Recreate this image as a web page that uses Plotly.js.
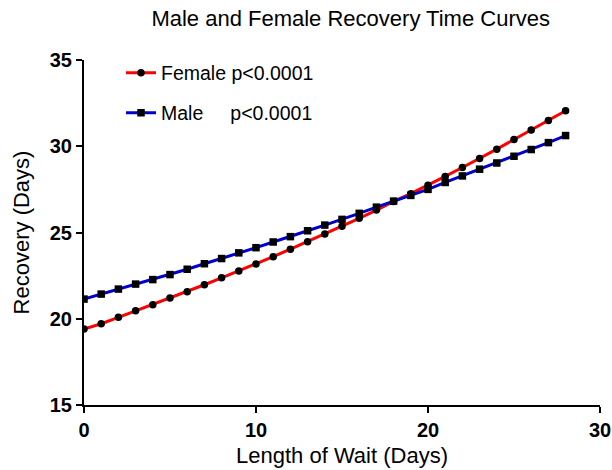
<!DOCTYPE html>
<html>
<head>
<meta charset="utf-8">
<script src="https://cdn.plot.ly/plotly-3.0.1.min.js"></script>
<style>html,body{margin:0;padding:0;background:#fff;}#chart{width:612px;height:470px;}</style>
</head>
<body>
<div id="chart"></div>
<script>
const waitDays = [0,1,2,3,4,5,6,7,8,9,10,11,12,13,14,15,16,17,18,19,20,21,22,23,24,25,26,27,28];
const femaleRecovery = [19.40,19.71,20.08,20.46,20.81,21.20,21.56,21.97,22.37,22.77,23.18,23.60,24.03,24.47,24.91,25.36,25.82,26.30,26.80,27.25,27.74,28.25,28.77,29.29,29.83,30.39,30.94,31.49,32.06];
const maleRecovery = [21.14,21.43,21.72,22.01,22.27,22.56,22.87,23.19,23.49,23.82,24.12,24.45,24.76,25.10,25.43,25.76,26.11,26.47,26.82,27.15,27.50,27.90,28.28,28.67,29.03,29.42,29.81,30.21,30.62];
const femaleName = "Female p<0.0001";
const maleName = "Male\u00A0\u00A0\u00A0\u00A0\u00A0p<0.0001";
const xTicks = [0,10,20,30];
const yTicks = [15,20,25,30,35];

const FONT = "Liberation Sans, Arial, Helvetica, sans-serif";

const traces = [
  {x: waitDays, y: femaleRecovery, name: femaleName, mode: "lines+markers", type: "scatter",
   line: {color: "#ff0000", width: 3}, marker: {color: "#000", symbol: "circle", size: 7.5},
   legend: "legend"},
  {x: waitDays, y: maleRecovery, name: maleName, mode: "lines+markers", type: "scatter",
   line: {color: "#0000cc", width: 3}, marker: {color: "#000", symbol: "square", size: 7.5},
   legend: "legend2"}
];

// plot area: left 84, right 600, top 60, bottom 405
const legendCommon = {bgcolor: "rgba(0,0,0,0)", borderwidth: 0, font: {family: FONT, size: 19.5, color: "#000"},
  xref: "paper", yref: "paper", xanchor: "left", yanchor: "middle"};

const layout = {
  width: 612, height: 470,
  margin: {l: 84, r: 12, t: 60, b: 65, autoexpand: false},
  paper_bgcolor: "#fff", plot_bgcolor: "#fff",
  font: {family: FONT, color: "#000"},
  title: {text: "Male and Female Recovery Time Curves", font: {family: FONT, size: 22, color: "#000"},
    xref: "container", x: 0.573, xanchor: "center", yref: "container", y: 1 - 18/470, yanchor: "middle"},
  xaxis: {range: [0, 30], tickvals: xTicks, ticktext: xTicks.map(String), showline: true, linewidth: 2, linecolor: "#000",
    ticks: "outside", ticklen: 6, tickwidth: 2, tickcolor: "#000", showgrid: false, zeroline: false,
    tickfont: {family: FONT, size: 20, color: "#000", weight: "bold"},
    title: {text: "Length of Wait (Days)", font: {family: FONT, size: 22, color: "#000"}, standoff: 8}},
  yaxis: {range: [15, 35], tickvals: yTicks, ticktext: yTicks.map(String), showline: true, linewidth: 2, linecolor: "#000",
    ticks: "outside", ticklen: 6, tickwidth: 2, tickcolor: "#000", showgrid: false, zeroline: false,
    tickfont: {family: FONT, size: 20, color: "#000", weight: "bold"},
    title: {text: "Recovery (Days)", font: {family: FONT, size: 22, color: "#000"}, standoff: 14}},
  legend: Object.assign({}, legendCommon, {x: (121 - 84)/516, y: (405 - 73)/345}),
  legend2: Object.assign({}, legendCommon, {x: (121 - 84)/516, y: (405 - 113)/345}),
  showlegend: true
};

Plotly.newPlot("chart", traces, layout, {displayModeBar: false, staticPlot: true});
</script>
</body>
</html>
